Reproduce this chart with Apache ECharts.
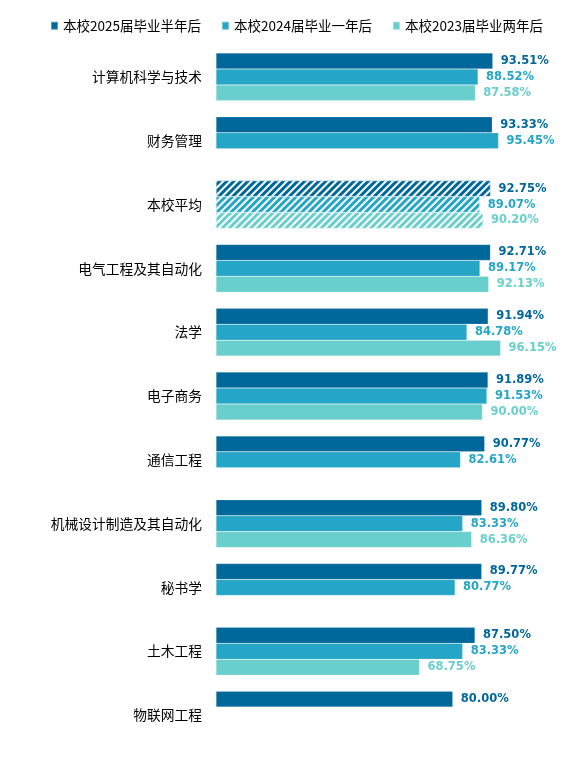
<!DOCTYPE html>
<html lang="zh">
<head>
    <meta charset="utf-8">
    <title>ECharts</title>
    <script src="https://cdn.jsdelivr.net/npm/echarts@6.0.0/dist/echarts.min.js"></script>
    <style>
        html, body { margin: 0; padding: 0; background: #fff; }
    </style>
</head>
<body>
<div id="main" style="width: 584px;height:759px;"></div>
<script type="text/javascript">
    var categories = ['计算机科学与技术', '财务管理', '本校平均', '电气工程及其自动化', '法学', '电子商务',
        '通信工程', '机械设计制造及其自动化', '秘书学', '土木工程', '物联网工程'];
    var seriesNames = ['本校2025届毕业半年后', '本校2024届毕业一年后', '本校2023届毕业两年后'];
    var values2025 = [93.51, 93.33, 92.75, 92.71, 91.94, 91.89, 90.77, 89.80, 89.77, 87.50, 80.00];
    var values2024 = [88.52, 95.45, 89.07, 89.17, 84.78, 91.53, 82.61, 83.33, 80.77, 83.33, null];
    var values2023 = [87.58, null, 90.20, 92.13, 96.15, 90.00, null, 86.36, null, 68.75, null];
    var colors = ['#00679a', '#26a6c6', '#69cfcc'];
    var avgName = '本校平均';

    var myChart = echarts.init(document.getElementById('main'));

    function buildData(values) {
        return values.map(function (v, i) {
            if (v === null) return '-';
            if (categories[i] === avgName) {
                // 本校平均用斜线填充
                return {
                    value: v,
                    itemStyle: {
                        decal: {
                            symbol: 'rect',
                            symbolSize: 1,
                            dashArrayX: [1, 0],
                            dashArrayY: [1.5, 2.2],
                            rotation: -Math.PI / 4,
                            color: '#ffffff'
                        }
                    }
                };
            }
            return v;
        });
    }

    var allValues = [values2025, values2024, values2023];
    var series = allValues.map(function (vals, k) {
        return {
            name: seriesNames[k],
            type: 'bar',
            barGap: 0,
            barCategoryGap: '25%',
            data: buildData(vals),
            itemStyle: {
                color: colors[k],
                borderColor: 'rgba(255,255,255,0.35)',
                borderWidth: 0.5
            },
            label: {
                show: true,
                position: 'right',
                distance: 8,
                color: colors[k],
                fontFamily: 'DejaVu Sans',
                fontWeight: 'bold',
                fontSize: 11.5,
                formatter: function (p) {
                    return p.value.toFixed(2) + '%';
                }
            }
        };
    });

    var option = {
        animation: false,
        color: colors,
        legend: {
            left: 45,
            top: 14,
            itemWidth: 7,
            itemHeight: 8,
            itemGap: 20,
            itemTextGap: 8,
            icon: 'rect',
            textStyle: {
                color: '#000',
                fontSize: 13.5,
                fontFamily: 'Noto Sans CJK SC'
            },
            data: seriesNames
        },
        grid: {
            left: 216,
            right: 72,
            top: 45,
            bottom: 12,
            containLabel: false
        },
        xAxis: {
            type: 'value',
            min: 0,
            max: 100,
            show: false
        },
        yAxis: {
            type: 'category',
            inverse: true,
            data: categories,
            axisLine: { show: false },
            axisTick: { show: false },
            axisLabel: {
                margin: 14,
                color: '#000',
                fontSize: 13.75,
                fontFamily: 'Noto Sans CJK SC'
            }
        },
        series: series
    };

    myChart.setOption(option);
</script>
</body>
</html>
